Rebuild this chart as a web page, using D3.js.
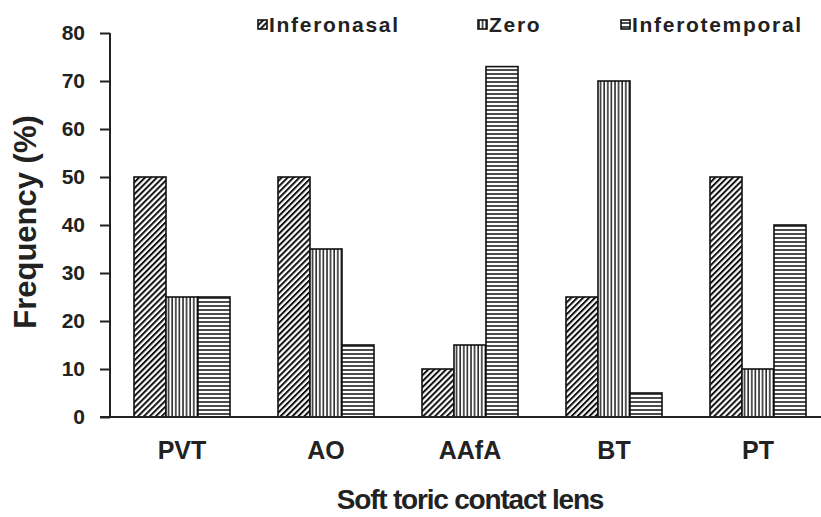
<!DOCTYPE html>
<html>
<head>
<meta charset="utf-8">
<script src="https://cdn.jsdelivr.net/npm/d3@7"></script>
<style>
  body { margin: 0; background: #fff; }
  text { font-family: Arial, "Liberation Sans", sans-serif; font-weight: bold; fill: #222; }
</style>
</head>
<body>
<svg id="chart"></svg>
<script>
// data
const lenses = ["PVT", "AO", "AAfA", "BT", "PT"];
const positions = ["Inferonasal", "Zero", "Inferotemporal"];
const inferonasal = [50, 50, 10, 25, 50];
const zero = [25, 35, 15, 70, 10];
const inferotemporal = [25, 15, 73, 5, 40];
const yTicks = [0, 10, 20, 30, 40, 50, 60, 70, 80];

const width = 821, height = 517;
const margin = {top: 33, right: -9, bottom: 100, left: 110};

const svg = d3.select("#chart")
    .attr("width", width)
    .attr("height", height);

// hatch patterns
const defs = svg.append("defs");
const diag = defs.append("pattern").attr("id", "p0")
    .attr("patternUnits", "userSpaceOnUse").attr("width", 4.2).attr("height", 4.2)
    .attr("patternTransform", "rotate(45)");
diag.append("rect").attr("width", 4.2).attr("height", 4.2).attr("fill", "#fff");
diag.append("line").attr("x1", 1).attr("y1", 0).attr("x2", 1).attr("y2", 4.2)
    .attr("stroke", "#111").attr("stroke-width", 2);

const vert = defs.append("pattern").attr("id", "p1")
    .attr("patternUnits", "userSpaceOnUse").attr("width", 3.6).attr("height", 4);
vert.append("rect").attr("width", 3.6).attr("height", 4).attr("fill", "#fff");
vert.append("line").attr("x1", 1).attr("y1", 0).attr("x2", 1).attr("y2", 4)
    .attr("stroke", "#111").attr("stroke-width", 1.4);

const horiz = defs.append("pattern").attr("id", "p2")
    .attr("patternUnits", "userSpaceOnUse").attr("width", 4).attr("height", 4);
horiz.append("rect").attr("width", 4).attr("height", 4).attr("fill", "#fff");
horiz.append("line").attr("x1", 0).attr("y1", 1).attr("x2", 4).attr("y2", 1)
    .attr("stroke", "#111").attr("stroke-width", 1.5);

const innerW = width - margin.left - margin.right;
const innerH = height - margin.top - margin.bottom;

const x = d3.scaleBand().domain(lenses).range([0, innerW]).paddingInner(1 / 3).paddingOuter(1 / 6);
const xSub = d3.scaleBand().domain(positions).range([0, x.bandwidth()]);
const y = d3.scaleLinear().domain([0, 80]).range([innerH, 0]);

const g = svg.append("g").attr("transform", `translate(${margin.left},${margin.top})`);

const series = [inferonasal, zero, inferotemporal];
const rows = [];
lenses.forEach((l, i) => positions.forEach((p, j) => rows.push({lens: l, pos: p, idx: j, value: series[j][i]})));

g.selectAll(".bar")
    .data(rows)
    .enter()
    .append("rect")
    .attr("class", "bar")
    .attr("x", d => x(d.lens) + xSub(d.pos))
    .attr("y", d => y(d.value))
    .attr("width", xSub.bandwidth())
    .attr("height", d => innerH - y(d.value))
    .attr("fill", d => `url(#p${d.idx})`)
    .attr("stroke", "#111")
    .attr("stroke-width", 1.6);

// y axis
const yAxis = g.append("g")
    .call(d3.axisLeft(y).tickValues(yTicks).tickSize(10).tickPadding(15));
yAxis.select(".domain").attr("stroke", "#222").attr("stroke-width", 2).attr("d", `M0,${innerH}V0`);
yAxis.selectAll(".tick line").attr("stroke", "#222").attr("stroke-width", 2);
yAxis.selectAll("text").style("font-size", "21px").attr("fill", "#333");

// x axis baseline
g.append("line")
    .attr("x1", -10).attr("x2", innerW + 10)
    .attr("y1", innerH).attr("y2", innerH)
    .attr("stroke", "#222").attr("stroke-width", 2);

// category labels
g.selectAll(".xl")
    .data(lenses)
    .enter()
    .append("text")
    .attr("x", d => x(d) + x.bandwidth() / 2)
    .attr("y", innerH + 42)
    .attr("text-anchor", "middle")
    .style("font-size", "25px")
    .attr("fill", "#333")
    .text(d => d);

// axis titles
svg.append("text")
    .attr("transform", `translate(36,222) rotate(-90)`)
    .attr("text-anchor", "middle")
    .style("font-size", "31px")
    .text("Frequency (%)");

svg.append("text")
    .attr("x", 470).attr("y", 509)
    .attr("text-anchor", "middle")
    .style("font-size", "28px")
    .style("letter-spacing", "-1.2px")
    .text("Soft toric contact lens");

// legend
const legendX = [258, 478, 621];
const legend = svg.selectAll(".lg")
    .data(positions)
    .enter()
    .append("g")
    .attr("transform", (d, i) => `translate(${legendX[i]},18)`);
legend.append("rect")
    .attr("width", 9).attr("height", 9).attr("y", 2)
    .attr("fill", (d, i) => `url(#p${i})`)
    .attr("stroke", "#111").attr("stroke-width", 1.6);
legend.append("text")
    .attr("x", 11).attr("y", 14)
    .style("font-size", "21px")
    .style("letter-spacing", "1.7px")
    .text(d => d);
</script>
</body>
</html>
